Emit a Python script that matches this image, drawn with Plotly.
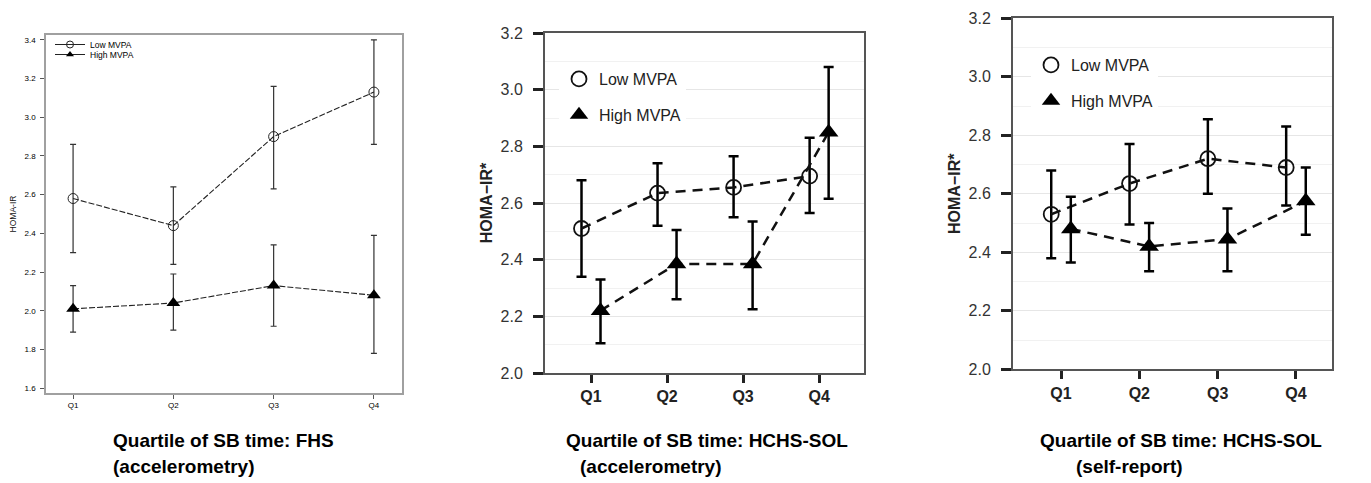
import plotly.graph_objects as go

W, H = 1371, 483
PAGE_OFFSET = 8  # default page margin around the plot div

quartiles = ["Q1", "Q2", "Q3", "Q4"]

# Panel 1: FHS (accelerometry)
fhs_low = [2.58, 2.44, 2.90, 3.13]
fhs_low_upper = [2.86, 2.64, 3.16, 3.40]
fhs_low_lower = [2.30, 2.24, 2.63, 2.86]
fhs_high = [2.01, 2.04, 2.13, 2.08]
fhs_high_upper = [2.13, 2.19, 2.34, 2.39]
fhs_high_lower = [1.89, 1.90, 1.92, 1.78]

# Panel 2: HCHS-SOL (accelerometry)
acc_low = [2.51, 2.635, 2.655, 2.695]
acc_low_upper = [2.68, 2.74, 2.765, 2.83]
acc_low_lower = [2.34, 2.52, 2.55, 2.565]
acc_high = [2.22, 2.385, 2.385, 2.85]
acc_high_upper = [2.33, 2.505, 2.535, 3.08]
acc_high_lower = [2.105, 2.26, 2.225, 2.615]

# Panel 3: HCHS-SOL (self-report)
sr_low = [2.53, 2.635, 2.72, 2.69]
sr_low_upper = [2.68, 2.77, 2.855, 2.83]
sr_low_lower = [2.38, 2.495, 2.60, 2.56]
sr_high = [2.48, 2.42, 2.445, 2.575]
sr_high_upper = [2.59, 2.50, 2.55, 2.69]
sr_high_lower = [2.365, 2.335, 2.335, 2.46]

captions = [
    ("Quartile of SB time: FHS", "(accelerometry)"),
    ("Quartile of SB time: HCHS-SOL", "(accelerometry)"),
    ("Quartile of SB time: HCHS-SOL", "(self-report)"),
]

FONT = "Liberation Sans, Arial, sans-serif"


def px_x(p):
    return (p - PAGE_OFFSET) / W


def px_y(p):
    return 1 - (p - PAGE_OFFSET) / H


def err(y, up, lo):
    return dict(type="data", symmetric=False,
                array=[u - v for u, v in zip(up, y)],
                arrayminus=[v - l for v, l in zip(y, lo)])


xs = list(range(len(quartiles)))
dodge = 0.125
x_lo = [i - dodge for i in xs]
x_hi = [i + dodge for i in xs]

fig = go.Figure()

# ---------- Panel 1 ----------
e1 = err(fhs_low, fhs_low_upper, fhs_low_lower)
e1.update(color="#333", thickness=1.2, width=3)
fig.add_trace(go.Scatter(x=xs, y=fhs_low, mode="lines+markers", showlegend=False,
                         line=dict(color="#222", width=1.1, dash="6px,2px"),
                         marker=dict(symbol="circle-open", size=10, color="#222", line=dict(width=1)),
                         error_y=e1, xaxis="x", yaxis="y"))
e2 = err(fhs_high, fhs_high_upper, fhs_high_lower)
e2.update(color="#333", thickness=1.2, width=3)
fig.add_trace(go.Scatter(x=xs, y=fhs_high, mode="lines+markers", showlegend=False,
                         line=dict(color="#222", width=1.1, dash="6px,2px"),
                         marker=dict(symbol="triangle-up", size=12, color="#000"),
                         error_y=e2, xaxis="x", yaxis="y"))
fig.add_trace(go.Scatter(x=[None], y=[None], mode="lines+markers", name="Low MVPA",
                         line=dict(color="#222", width=1),
                         marker=dict(symbol="circle-open", size=7, color="#222", line=dict(width=1)),
                         xaxis="x", yaxis="y", legend="legend"))
fig.add_trace(go.Scatter(x=[None], y=[None], mode="lines+markers", name="High MVPA",
                         line=dict(color="#222", width=1),
                         marker=dict(symbol="triangle-up", size=7, color="#000"),
                         xaxis="x", yaxis="y", legend="legend2"))

# ---------- Panels 2 & 3 ----------
panels = [
    ("x2", "y2", "legend3", acc_low, acc_low_upper, acc_low_lower, acc_high, acc_high_upper, acc_high_lower),
    ("x3", "y3", "legend4", sr_low, sr_low_upper, sr_low_lower, sr_high, sr_high_upper, sr_high_lower),
]
for xa, ya, lg, lo, lou, lol, hi, hiu, hil in panels:
    el = err(lo, lou, lol)
    el.update(color="#000", thickness=2.5, width=5)
    fig.add_trace(go.Scatter(x=x_lo, y=lo, mode="lines+markers", showlegend=False,
                             line=dict(color="#111", width=2.5, dash="10px,7px"),
                             marker=dict(symbol="circle-open", size=15, color="#111", line=dict(width=1.8)),
                             error_y=el, xaxis=xa, yaxis=ya))
    eh = err(hi, hiu, hil)
    eh.update(color="#000", thickness=2.5, width=5)
    fig.add_trace(go.Scatter(x=x_hi, y=hi, mode="lines+markers", showlegend=False,
                             line=dict(color="#111", width=2.5, dash="10px,7px"),
                             marker=dict(symbol="triangle-up", size=17, color="#000"),
                             error_y=eh, xaxis=xa, yaxis=ya))
    fig.add_trace(go.Scatter(x=[None], y=[None], mode="markers", name="Low MVPA",
                             legendgroup=lg + "a",
                             marker=dict(symbol="circle-open", size=15, color="#111", line=dict(width=1.8)),
                             xaxis=xa, yaxis=ya, legend=lg))
    fig.add_trace(go.Scatter(x=[None], y=[None], mode="markers", name="High MVPA",
                             legendgroup=lg + "b",
                             marker=dict(symbol="triangle-up", size=17, color="#000"),
                             xaxis=xa, yaxis=ya, legend=lg))

# ---------- Axes ----------
ax1 = dict(range=[-0.27, 3.28], tickmode="array", tickvals=xs, ticktext=quartiles,
           ticks="outside", ticklen=4, tickcolor="#555", showline=True, linecolor="#a0a0a0",
           linewidth=1.5, mirror=True, showgrid=False, zeroline=False, automargin=False,
           tickfont=dict(size=8, color="#000", family=FONT))
ay1 = dict(range=[1.575, 3.425], tick0=1.6, dtick=0.2, tickformat=".1f",
           ticks="outside", ticklen=4, tickcolor="#555", showline=True, linecolor="#a0a0a0",
           linewidth=1.5, mirror=True, showgrid=False, zeroline=False, ticklabelstandoff=3,
           automargin=False,
           tickfont=dict(size=8, color="#000", family=FONT),
           title=dict(text="HOMA-IR", font=dict(size=8.5, color="#111", family=FONT), standoff=8))


def ax_big(dom, rng):
    return dict(domain=dom, range=rng, tickmode="array", tickvals=xs,
                ticktext=["<b>%s</b>" % q for q in quartiles],
                ticks="outside", ticklen=8, tickwidth=2.5, tickcolor="#222",
                showline=True, linecolor="#555", linewidth=2, mirror=True,
                showgrid=False, zeroline=False, automargin=False,
                tickfont=dict(size=16, color="#222", family=FONT))


def ay_big(dom):
    return dict(domain=dom, range=[2.0, 3.2], tick0=2.0, dtick=0.2, tickformat=".1f",
                ticks="outside", ticklen=10, tickwidth=2.5, tickcolor="#222",
                showline=True, linecolor="#555", linewidth=2, mirror=True,
                showgrid=True, gridcolor="#e6e6e6", gridwidth=1, zeroline=False,
                ticklabelstandoff=7, automargin=False,
                minor=dict(dtick=0.1, showgrid=True, gridcolor="#f1f1f1", gridwidth=1),
                tickfont=dict(size=16, color="#333", family=FONT),
                title=dict(text="<b>HOMA−IR*</b>", font=dict(size=16, color="#222", family=FONT),
                           standoff=4))


layout = dict(
    width=W, height=H, margin=dict(l=0, r=0, t=0, b=0, autoexpand=False),
    paper_bgcolor="white", plot_bgcolor="white",
    font=dict(family=FONT, color="#222"),
    xaxis=dict(domain=[px_x(46), px_x(402)], anchor="y", **ax1),
    yaxis=dict(domain=[px_y(393), px_y(35)], anchor="x", **ay1),
    xaxis2=dict(anchor="y2", **ax_big([px_x(545), px_x(864)], [-0.605, 3.59])),
    yaxis2=dict(anchor="x2", **ay_big([px_y(373), px_y(33)])),
    xaxis3=dict(anchor="y3", **ax_big([px_x(1013), px_x(1332)], [-0.613, 3.46])),
    yaxis3=dict(anchor="x3", **ay_big([px_y(369.3), px_y(18.3)])),
    legend=dict(x=px_x(50), y=px_y(30), xanchor="left", yanchor="top",
                bgcolor="rgba(0,0,0,0)", font=dict(size=8.5, color="#000", family=FONT)),
    legend2=dict(x=px_x(50), y=px_y(40), xanchor="left", yanchor="top",
                 bgcolor="rgba(0,0,0,0)", font=dict(size=8.5, color="#000", family=FONT)),
    legend3=dict(x=px_x(559), y=px_y(62), xanchor="left", yanchor="top",
                 bgcolor="white", traceorder="grouped", tracegroupgap=12,
                 font=dict(size=16, color="#222", family=FONT)),
    legend4=dict(x=px_x(1031), y=px_y(48), xanchor="left", yanchor="top",
                 bgcolor="white", traceorder="grouped", tracegroupgap=12,
                 font=dict(size=16, color="#222", family=FONT)),
)
fig.update_layout(**layout)

cap_pos = [((111, 440), (111, 466)), ((564, 440), (578, 466)), ((1038, 440), (1074, 466))]
for (l1, l2), ((x1, y1), (x2, y2)) in zip(captions, cap_pos):
    fig.add_annotation(text="<b>%s</b>" % l1, x=px_x(x1), y=px_y(y1), xref="paper", yref="paper",
                       xanchor="left", yanchor="middle", showarrow=False,
                       font=dict(size=19, color="#000", family=FONT))
    fig.add_annotation(text="<b>%s</b>" % l2, x=px_x(x2), y=px_y(y2), xref="paper", yref="paper",
                       xanchor="left", yanchor="middle", showarrow=False,
                       font=dict(size=19, color="#000", family=FONT))

fig.write_html("out.html")
